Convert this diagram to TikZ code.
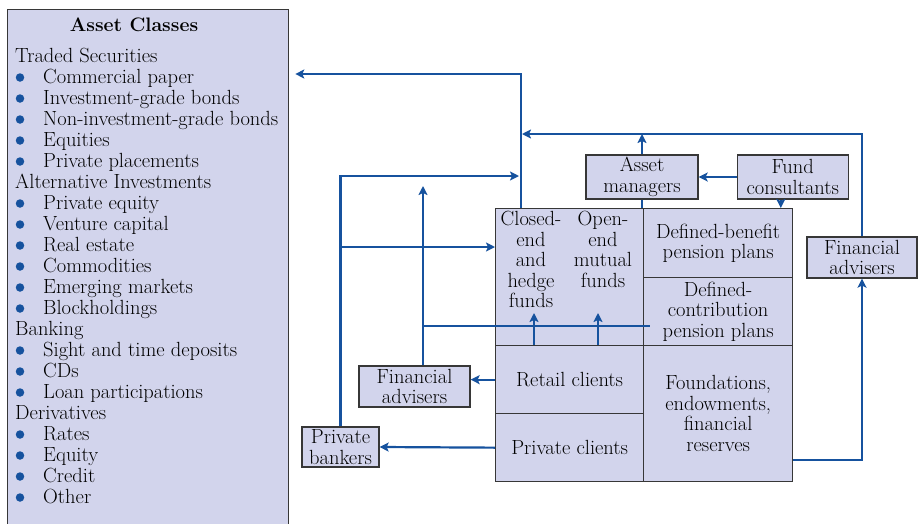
\documentclass[tikz,border=0pt]{standalone}
\usetikzlibrary{positioning,arrows.meta}
\definecolor{flowblue}{RGB}{22,82,158}
\definecolor{boxfill}{RGB}{210,212,236}
\definecolor{boxline}{RGB}{55,55,55}

\begin{document}
\begin{tikzpicture}[x=1pt, y=-1pt, >={Stealth[length=9pt,width=9pt,inset=2pt]},
  font=\fontsize{20.5}{20.5}\selectfont,
  box/.style={draw=boxline, fill=boxfill, line width=1.3pt, inner sep=0pt, align=center},
  cell/.style={box, anchor=north west},
  flow/.style={->, draw=flowblue, line width=2.2pt},
  link/.style={draw=flowblue, line width=2.2pt},
  item/.style={anchor=base west, inner sep=0pt},
  dot/.style={fill=flowblue, draw=none, circle, minimum size=8.5pt, inner sep=0pt}]

\useasboundingbox (0,0) rectangle (919,523);

% Asset classes panel
\node[cell, minimum width=281pt, minimum height=540pt] (classes) at (7,9) {};
\node[anchor=base, inner sep=0pt, font=\fontsize{19.5}{20.5}\selectfont\bfseries] (title) at (134,31) {Asset Classes};
\foreach \row/\txt in {0/Traded Securities, 6/Alternative Investments, 13/Banking, 17/Derivatives}
  \node[item] (head\row) at (15,{62+21*\row}) {\txt};
\foreach \row/\txt in {1/Commercial paper, 2/Investment-grade bonds, 3/Non-investment-grade bonds,
    4/Equities, 5/Private placements, 7/Private equity, 8/Venture capital, 9/Real estate,
    10/Commodities, 11/Emerging markets, 12/Blockholdings, 14/Sight and time deposits,
    15/CDs, 16/Loan participations, 18/Rates, 19/Equity, 20/Credit, 21/Other} {
  \node[item] (item\row) at (43,{62+21*\row}) {\txt};
  \node[dot] (dot\row) at (20,{56.5+21*\row}) {};
}

% Client block
\node[cell, minimum width=148pt, minimum height=137pt] (funds) at (495,208) {};
\node[cell, minimum width=149pt, minimum height=69pt] (db) at (643,208) {Defined-benefit\\pension plans};
\node[cell, minimum width=149pt, minimum height=68pt] (dc) at (643,277) {Defined-\\contribution\\pension plans};
\node[cell, minimum width=148pt, minimum height=68pt] (retail) at (495,345) {Retail clients};
\node[cell, minimum width=148pt, minimum height=68pt] (private) at (495,413) {Private clients};
\node[cell, minimum width=149pt, minimum height=136pt] (found) at (643,345) {Foundations,\\endowments,\\financial\\reserves};
\node[anchor=north, align=center, inner sep=0pt] (closed) at (531,211) {Closed-\\end\\and\\hedge\\funds};
\node[anchor=north, align=center, inner sep=0pt] (open) at (603,211) {Open-\\end\\mutual\\funds};

% Intermediaries
\node[box, minimum width=112pt, minimum height=44pt] (am) at (642,177) {Asset\\managers};
\node[box, minimum width=111pt, minimum height=44pt, right=38pt of am] (fc) {Fund\\consultants};
\node[box, minimum width=110pt, minimum height=41pt] (fa2) at (862,257.5) {Financial\\advisers};
\node[box, minimum width=111pt, minimum height=41pt] (fa1) at (414.5,386.5) {Financial\\advisers};
\node[box, minimum width=77pt, minimum height=40pt] (pb) at (340.5,447) {Private\\bankers};

\coordinate (toparr) at (521,74);
\coordinate (midarr) at (522,134);
\coordinate (pbarr) at (519,176);
\coordinate (pbfork) at (341,247);
\coordinate (faarr) at (423,186);
\coordinate (faend) at (650,326);
\coordinate (upA) at (534,313);
\coordinate (upB) at (598,313);
\coordinate (fcdrop) at ([xshift=-12pt]fc.south);
\coordinate (foundout) at ([yshift=-46pt]found.east);

% Arrows
\draw[flow, shorten >=6pt] (funds.north -| toparr) -- (toparr) -- (classes.east |- toparr);
\draw[flow] (fa2.north) |- (midarr);
\draw[flow] (am.north) -- (am.north |- midarr);
\draw[link] (am.south) -- (am.south |- funds.north);
\draw[flow] (fc.west) -- (am.east);
\draw[flow] (fcdrop) -- (fcdrop |- db.north);
\draw[flow] (foundout) -| (fa2.south);
\draw[flow] (pb.north) |- (pbarr);
\draw[flow] (pbfork) -- (pbfork -| funds.west);
\draw[flow] (fa1.north -| faarr) -- (faarr);
\draw[link] (faarr |- faend) -- (faend);
\draw[flow] (retail.west) -- (retail.west -| fa1.east);
\draw[flow] (private.west) -- (pb.east);
\foreach \c in {upA,upB}
  \draw[flow] (retail.north -| \c) -- (\c);

\end{tikzpicture}
\end{document}
